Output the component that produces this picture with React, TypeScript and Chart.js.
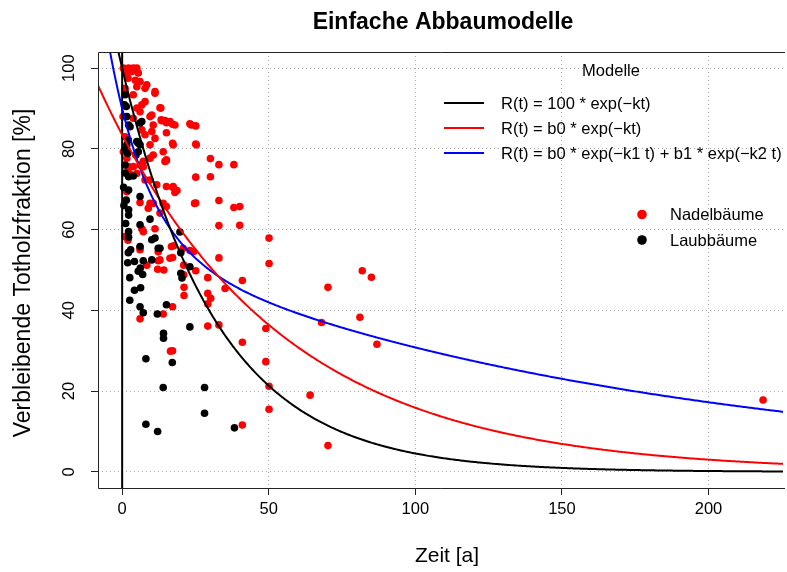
import React, { useEffect, useRef } from "react";
import { Chart, registerables } from "chart.js";

Chart.register(...registerables);

// Zersetzungsdaten: Zeit seit Absterben [a] und verbleibende Fraktion [%]
const nadelZeit = [
  218.6, 70.2, 81.9, 85.0, 86.9, 81.1, 68.0, 64.1, 70.2,
  50.1, 50.1, 49.0, 49.0, 50.1, 50.1, 41.0, 41.0, 41.0,
  23.1, 25.1, 25.1, 30.1, 33.0, 38.1, 25.1, 30.1, 25.1, 33.0, 38.1, 40.1, 33.0, 40.1, 33.0, 35.1, 29.2, 29.2, 30.2, 29.2, 25.1, 21.1, 21.1, 21.0, 23.1, 24.4, 29.2, 33.0,
  15.1, 17.2, 18.7, 18.0, 13.5, 15.1, 17.2, 15.1, 17.2, 15.1, 17.6, 17.2, 12.9, 21.0, 14.2, 12.1, 17.2, 14.0, 17.2, 6.1, 16.8, 20.8,
  9.5, 8.9, 10.6, 11.2, 6.7, 7.2, 6.1, 6.1, 12.3, 8.4, 12.3,
  0.4, 2.2, 3.8, 5.0, 3.3, 1.6, 5.5, 8.4, 7.8, 11.2, 6.1, 5.0, 1.0, 12.9, 10.1, 6.7, 3.8, 9.5, 10.6, 13.3, 10.1, 11.2, 7.8, 6.1, 3.8, 5.0, 1.0, 0.4, 1.6, 14.0, 14.6, 10.6, 9.5, 7.2, 9.5, 7.8, 6.7, 18.0, 17.4,
  2.1, 3.8, 6.1, 2.5, 5.0, 7.2, 11.8, 9.5, 7.8, 6.1, 16.3, 14.0, 15.1, 12.9, 16.5, 2.0, 4.5, 1.6, 1.0, 2.0, 0.3, 11.2, 13.2, 16.3, 14.6, 15.1, 17.4, 24.7, 23.6, 25.3,
];
const nadelRest = [
  17.8, 45.7, 49.8, 48.2, 31.6, 38.3, 37.0, 19.0, 6.5,
  57.9, 51.6, 35.5, 27.3, 21.2, 15.5, 11.6, 47.4, 32.1,
  86.2, 85.7, 81.2, 77.6, 76.1, 76.1, 73.0, 73.1, 66.6, 67.2, 65.5, 65.7, 61.0, 61.1, 53.0, 45.4, 48.1, 44.2, 43.0, 41.6, 49.8, 45.7, 43.7, 48.8, 54.8, 54.6, 36.1, 36.4,
  70.7, 70.5, 69.7, 69.2, 87.0, 86.5, 86.1, 84.0, 81.4, 77.1, 56.0, 53.1, 52.5, 51.2, 50.0, 50.2, 40.9, 39.1, 30.0, 37.9, 55.8, 55.4,
  66.5, 65.3, 66.5, 60.2, 60.2, 59.5, 55.0, 66.7, 54.5, 51.2, 52.3,
  100, 100, 100, 100, 99.2, 98.8, 98.8, 95.9, 95.0, 94.2, 96.7, 95.4, 95.0, 90.2, 88.4, 90.9, 93.4, 88.0, 85.9, 87.2, 84.3, 82.6, 91.7, 89.2, 87.6, 90.1, 83.0, 79.3, 77.7, 79.3, 76.9, 78.5, 77.7, 76.9, 81.0, 83.5, 84.7, 85.9, 81.0,
  75.6, 75.6, 76.0, 73.9, 73.9, 75.6, 71.1, 72.3, 72.3, 55.6, 52.9, 66.5, 65.7, 64.1, 29.9, 97.5, 97.0, 69.4, 58.3, 57.4, 88.0, 93.8, 90.1, 86.8, 87.0, 77.3, 70.7, 66.5, 85.9, 81.0,
];
const laubZeit = [
  28.1, 28.1, 38.3, 14.0, 8.1, 12.1, 8.1, 17.1, 14.1, 14.1, 23.1, 15.1, 12.0, 7.2, 6.1, 2.6, 4.2, 6.3, 2.6, 5.5,
  7.0, 6.2, 1.9, 4.2, 7.2, 10.1, 12.3, 2.9, 2.1, 6.1, 20.0, 20.0, 20.4, 23.1, 19.7, 12.9, 11.2, 10.1, 9.5, 6.1,
  2.2, 2.2, 2.2, 2.2, 1.4, 6.1, 2.2, 3.8, 2.2, 1.0, 1.0, 1.6, 1.0, 5.0, 5.5, 6.1, 5.5, 4.7, 2.2, 2.7,
  6.1, 1.0, 1.4, 1.6, 6.7, 2.1, 1.9, 0.8, 0.5, 0.6, 1.2,
];
const laubRest = [
  20.9, 14.5, 10.9, 20.9, 11.8, 10.0, 28.0, 27.1, 34.3, 33.1, 35.9, 41.4, 39.1, 39.4, 40.9, 42.5, 45.0, 45.6, 48.1, 49.7,
  48.9, 50.5, 51.8, 52.1, 52.3, 52.5, 55.4, 55.0, 54.3, 55.8, 54.3, 49.2, 48.0, 50.8, 59.4, 55.4, 57.9, 57.5, 62.6, 61.2,
  59.5, 58.1, 64.9, 63.6, 67.3, 68.2, 69.8, 73.3, 73.1, 74.0, 76.0, 81.0, 79.8, 81.8, 81.4, 81.0, 79.3, 78.5, 85.9, 85.5,
  86.4, 93.4, 90.5, 88.0, 86.8, 82.2, 78.9, 90.9, 70.5, 66.0, 61.5,
];

const xTicks = [0, 50, 100, 150, 200];
const yTicks = [0, 20, 40, 60, 80, 100];
const xRange = [-8.24, 225.4];
const yRange = [-4, 104];

const modelLabels = [
  "R(t) = 100 * exp(\u2212kt)",
  "R(t) = b0 * exp(\u2212kt)",
  "R(t) = b0 * exp(\u2212k1 t) + b1 * exp(\u2212k2 t)",
];
const modelColors = ["#000000", "#ff0000", "#0000ff"];
const groupLabels = ["Nadelbäume", "Laubbäume"];
const groupColors = ["#ff0000", "#000000"];

// Angepasste Modellparameter
const kEinfach = 0.0309;
const b0Zwei = 83.5;
const kZwei = 0.0166;
const b0Doppel = 35.0;
const k1Doppel = 0.075;
const b1Doppel = 55.0;
const k2Doppel = 0.0058;

const modelle: ((t: number) => number)[] = [
  (t) => 100 * Math.exp(-kEinfach * t),
  (t) => b0Zwei * Math.exp(-kZwei * t),
  (t) => b0Doppel * Math.exp(-k1Doppel * t) + b1Doppel * Math.exp(-k2Doppel * t),
];

const FONT = '"Liberation Sans", Arial, Helvetica, sans-serif';

function kurve(f: (t: number) => number) {
  const pts: { x: number; y: number }[] = [];
  for (let t = -9; t <= 226; t += 0.5) pts.push({ x: t, y: f(t) });
  return pts;
}

const annotations = {
  id: "rAnnotations",
  afterDraw(chart: any) {
    const { ctx, chartArea } = chart;
    const xs = chart.scales.x;
    const ys = chart.scales.y;
    ctx.save();

    // box
    ctx.strokeStyle = "#222";
    ctx.lineWidth = 1;
    ctx.beginPath();
    ctx.moveTo(chartArea.right + 2, Math.round(chartArea.top) + 0.5);
    ctx.lineTo(Math.round(chartArea.left) + 0.5, Math.round(chartArea.top) + 0.5);
    ctx.lineTo(Math.round(chartArea.left) + 0.5, Math.round(chartArea.bottom) + 0.5);
    ctx.lineTo(chartArea.right + 2, Math.round(chartArea.bottom) + 0.5);
    ctx.stroke();

    ctx.fillStyle = "#000";
    // x tick labels
    ctx.font = `16.5px ${FONT}`;
    ctx.textAlign = "center";
    ctx.textBaseline = "middle";
    xs.ticks.forEach((tk: any) => {
      ctx.fillText(String(tk.value), xs.getPixelForValue(tk.value), 509);
    });
    // y tick labels (vertical)
    ys.ticks.forEach((tk: any) => {
      ctx.save();
      ctx.translate(69, ys.getPixelForValue(tk.value));
      ctx.rotate(-Math.PI / 2);
      ctx.fillText(String(tk.value), 0, 0);
      ctx.restore();
    });

    // axis titles
    ctx.font = `21px ${FONT}`;
    ctx.fillText("Zeit [a]", 447, 556);
    ctx.save();
    ctx.font = `23px ${FONT}`;
    ctx.translate(24, 273);
    ctx.rotate(-Math.PI / 2);
    ctx.fillText("Verbleibende Totholzfraktion [%]", 0, 0);
    ctx.restore();

    // main title
    ctx.font = `bold 23px ${FONT}`;
    ctx.fillText("Einfache Abbaumodelle", 443, 23);

    // model legend
    ctx.font = `16.5px ${FONT}`;
    ctx.fillText("Modelle", 611, 71);
    ctx.textAlign = "left";
    modelLabels.forEach((lab, i) => {
      const y = 103 + i * 25;
      ctx.strokeStyle = modelColors[i];
      ctx.lineWidth = 2;
      ctx.beginPath();
      ctx.moveTo(444, y);
      ctx.lineTo(484, y);
      ctx.stroke();
      ctx.fillStyle = "#000";
      ctx.fillText(lab, 501, y + 1);
    });

    // group legend
    groupLabels.forEach((lab, i) => {
      const y = 214.5 + i * 25.5;
      ctx.fillStyle = groupColors[i];
      ctx.beginPath();
      ctx.arc(642, y, 4.8, 0, Math.PI * 2);
      ctx.fill();
      ctx.fillStyle = "#000";
      ctx.fillText(lab, 670, y + 1);
    });

    ctx.restore();
  },
};

export default function App() {
  const ref = useRef<HTMLCanvasElement | null>(null);

  useEffect(() => {
    if (!ref.current) return;
    const punkte = (ts: number[], rs: number[]) => ts.map((t, i) => ({ x: t, y: rs[i] }));

    const chart = new Chart(ref.current, {
      type: "scatter",
      data: {
        datasets: [
          ...modelle.map((f, i) => ({
            type: "line" as const,
            label: modelLabels[i],
            data: kurve(f),
            borderColor: modelColors[i],
            borderWidth: 2,
            pointRadius: 0,
            showLine: true,
            fill: false,
            tension: 0,
            clip: 0,
            order: 0,
          })),
          {
            type: "line" as const,
            label: "t = 0",
            data: [
              { x: 0, y: yRange[0] },
              { x: 0, y: yRange[1] },
            ],
            borderColor: "#000",
            borderWidth: 2,
            pointRadius: 0,
            showLine: true,
            clip: 0,
            order: 0,
          },
          {
            label: groupLabels[1],
            data: punkte(laubZeit, laubRest),
            backgroundColor: groupColors[1],
            borderWidth: 0,
            pointRadius: 3.8,
            order: 1,
          },
          {
            label: groupLabels[0],
            data: punkte(nadelZeit, nadelRest),
            backgroundColor: groupColors[0],
            borderWidth: 0,
            pointRadius: 3.8,
            order: 2,
          },
        ],
      },
      options: {
        responsive: false,
        animation: false,
        devicePixelRatio: 1,
        layout: { padding: { top: 52, left: 0, right: 0, bottom: 0 } },
        plugins: {
          legend: { display: false },
          tooltip: { enabled: false },
        },
        scales: {
          x: {
            type: "linear",
            min: xRange[0],
            max: xRange[1],
            afterBuildTicks: (s: any) => {
              s.ticks = xTicks.map((v) => ({ value: v }));
            },
            afterFit: (s: any) => {
              s.height = 84;
            },
            ticks: { display: false },
            grid: {
              color: "#a8a8a8",
              lineWidth: 1,
              drawTicks: true,
              tickLength: 7,
              tickColor: "#222",
              tickWidth: 1,
            },
            border: { display: false, dash: [1, 3] },
          },
          y: {
            type: "linear",
            min: yRange[0],
            max: yRange[1],
            afterBuildTicks: (s: any) => {
              s.ticks = yTicks.map((v) => ({ value: v }));
            },
            afterFit: (s: any) => {
              s.width = 98;
            },
            ticks: { display: false },
            grid: {
              color: "#a8a8a8",
              lineWidth: 1,
              drawTicks: true,
              tickLength: 7,
              tickColor: "#222",
              tickWidth: 1,
            },
            border: { display: false, dash: [1, 3] },
          },
        },
      } as any,
      plugins: [annotations],
    });

    return () => chart.destroy();
  }, []);

  return (
    <div style={{ position: "fixed", left: 0, top: 0, width: 787, height: 572, background: "#fff" }}>
      <canvas ref={ref} width={787} height={572} style={{ display: "block" }} />
    </div>
  );
}
